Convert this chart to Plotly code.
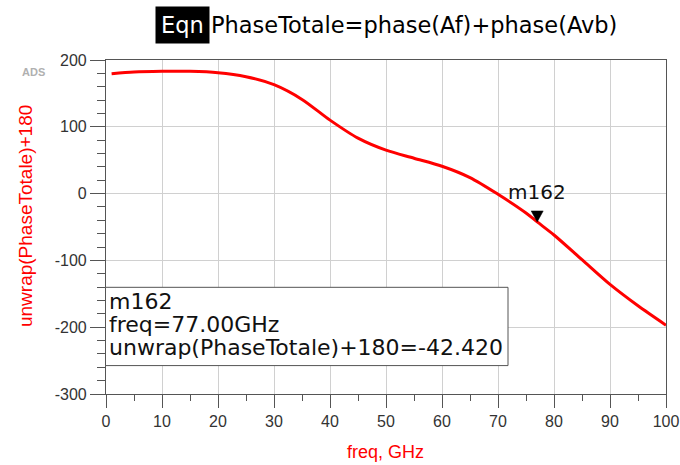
import plotly.graph_objects as go

# Data
freq_ghz = [1, 5, 10, 15, 20, 25, 30, 35, 40, 45, 50, 55, 60, 65, 70, 75, 77, 80, 85, 90, 95, 100]
phase_deg = [179.5, 182, 183, 183, 181, 175, 163, 141, 110, 83, 65, 53, 41, 24, -1, -29, -42.42,
             -62, -99, -136, -168, -197]
x_ticks = [0, 10, 20, 30, 40, 50, 60, 70, 80, 90, 100]
y_ticks = [-300, -200, -100, 0, 100, 200]
marker_freq = 77.0
marker_val = -42.42
marker_name = "m162"

FONT = "Liberation Sans, Arial, sans-serif"
WIDE = "DejaVu Sans, sans-serif"
RED = "#ff0000"

W, H = 680, 465
ML, MR, MT, MB = 106, 14, 59.5, 70.5
PW, PH = W - ML - MR, H - MT - MB


def xp(px):
    return (px - ML) / PW


def yp(py):
    return (H - MB - py) / PH


fig = go.Figure()
fig.add_trace(go.Scatter(
    x=freq_ghz, y=phase_deg, mode="lines",
    line=dict(color=RED, width=3, shape="spline", smoothing=0.8),
    hoverinfo="skip", showlegend=False,
))

fig.update_layout(
    width=W, height=H,
    margin=dict(l=ML, r=MR, t=MT, b=MB, autoexpand=False),
    paper_bgcolor="white", plot_bgcolor="white",
    font=dict(family=FONT, color="#222"),
    showlegend=False,
)

fig.update_xaxes(
    range=[0, 100], tickvals=x_ticks, ticktext=[str(v) for v in x_ticks],
    automargin=False,
    showgrid=True, gridcolor="#d0d0d0", gridwidth=1,
    showline=True, linecolor="#555", linewidth=1.2, mirror=True,
    ticks="outside", ticklen=13, tickcolor="#555", tickwidth=1.2,
    tickfont=dict(size=16, color="#333", family=FONT),
    minor=dict(dtick=5, ticks="outside", ticklen=6, tickcolor="#555", showgrid=False),
    zeroline=False,
)
fig.update_yaxes(
    range=[-300, 200], tickvals=y_ticks, ticktext=[str(v) for v in y_ticks],
    automargin=False,
    showgrid=True, gridcolor="#d0d0d0", gridwidth=1,
    showline=True, linecolor="#555", linewidth=1.2, mirror=True,
    ticks="outside", ticklen=15, tickcolor="#555", tickwidth=1.2,
    tickfont=dict(size=16, color="#333", family=FONT),
    minor=dict(dtick=20, ticks="outside", ticklen=8, tickcolor="#555", showgrid=False),
    zeroline=False,
)

# Axis titles
fig.add_annotation(
    xref="paper", yref="paper", x=xp(385), y=yp(453), xanchor="center", yanchor="middle",
    showarrow=False, text="freq, GHz", font=dict(size=18, color=RED, family=FONT),
)
fig.add_annotation(
    xref="paper", yref="paper", x=xp(25), y=yp(216), xanchor="center", yanchor="middle",
    showarrow=False, text="unwrap(PhaseTotale)+180", textangle=-90,
    font=dict(size=19, color=RED, family=FONT),
)

# Title pieces
fig.add_annotation(
    xref="paper", yref="paper", x=xp(209.5), y=yp(24),
    yanchor="middle", xanchor="right", showarrow=False,
    text="Eqn", font=dict(size=22.5, color="white", family=WIDE),
    bgcolor="black", borderpad=5,
)
fig.add_annotation(
    xref="paper", yref="paper", x=xp(209), y=yp(24),
    yanchor="middle", xanchor="left", showarrow=False,
    text="PhaseTotale=phase(Af)+phase(Avb)", font=dict(size=22.5, color="black", family=WIDE),
)
# ADS logo text
fig.add_annotation(
    xref="paper", yref="paper", x=xp(33), y=yp(72),
    xanchor="center", yanchor="middle", showarrow=False,
    text="<b>ADS</b>", font=dict(size=11, color="#b0b0b0", family=FONT),
)

# Marker triangle and label
fig.add_shape(
    type="path", xref="x", yref="y", xsizemode="pixel", ysizemode="pixel",
    xanchor=marker_freq, yanchor=marker_val,
    path="M -6,11 L 6,11 L 0,0 Z",
    fillcolor="black", line=dict(color="black", width=0.5),
)
fig.add_annotation(
    x=marker_freq, y=marker_val, xref="x", yref="y",
    text=marker_name, showarrow=False, yanchor="bottom", xanchor="center",
    yshift=16, font=dict(size=20, color="#111", family=WIDE),
)

# Marker readout box
fig.add_shape(
    type="rect", xref="paper", yref="paper",
    x0=xp(105.5), x1=xp(508), y0=yp(366), y1=yp(287.5),
    fillcolor="white", line=dict(color="#555", width=1), layer="above",
)
readout_lines = [
    marker_name,
    "freq=%.2fGHz" % marker_freq,
    "unwrap(PhaseTotale)+180=%.3f" % marker_val,
]
for i, line in enumerate(readout_lines):
    fig.add_annotation(
        xref="paper", yref="paper", x=xp(107), y=yp(302 + 23 * i),
        xanchor="left", yanchor="middle", showarrow=False, align="left",
        text=line, font=dict(size=22, color="#111", family=WIDE),
    )

fig.write_html(
    "out.html",
    config={"displayModeBar": False, "staticPlot": False},
    post_script="document.body.style.margin='0';document.body.style.padding='0';"
                "document.documentElement.style.overflow='hidden';",
)
